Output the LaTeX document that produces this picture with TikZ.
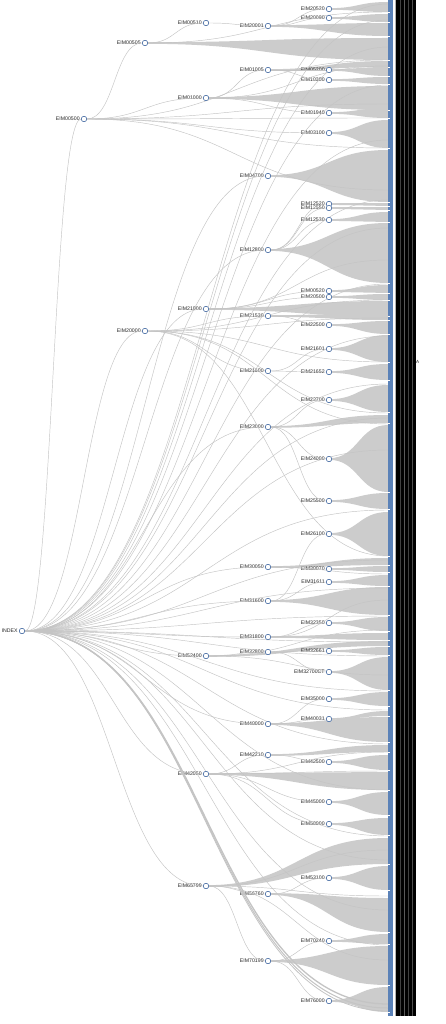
\documentclass[tikz,border=0pt]{standalone}
\usepackage{fontspec}
\setmainfont{Liberation Sans}
\usetikzlibrary{calc}
\definecolor{nodeblue}{HTML}{4A6FA5}
\definecolor{barblue}{HTML}{5B82B8}
\definecolor{wedgec}{HTML}{CCCCCC}
\definecolor{edgec}{HTML}{C4C4C4}
\tikzset{
  tn/.style={circle, draw=nodeblue, fill=white, line width=0.5pt, minimum size=5.4pt, inner sep=0pt},
  lab/.style={font=\fontsize{5.2}{6}\selectfont, text=black!85, inner sep=0pt},
  edge/.style={draw=edgec, line width=0.45pt},
  thick edge/.style={draw=edgec, line width=1.3pt},
  hlink/.style={to path={let \p1=(\tikztostart), \p2=(\tikztotarget), \n1={0.5*\x1+0.5*\x2} in .. controls (\n1,\y1) and (\n1,\y2) .. (\tikztotarget)}},
}
\newcommand\tnode[4]{\node[tn, label={[lab, label distance=1.2pt]left:#4}] (#1) at (#2,#3) {};}
\newcommand\wdg[4]{\fill[wedgec] (#1,#2-0.8) .. controls ({(#1+388)/2},#2-0.8) and ({(#1+388)/2},#3) .. (388,#3) -- (388,#4) .. controls ({(#1+388)/2},#4) and ({(#1+388)/2},#2+0.8) .. (#1,#2+0.8) -- cycle;}
\begin{document}
\begin{tikzpicture}[x=1pt,y=-1pt]
\useasboundingbox (0,0) rectangle (446,1024);
\fill[white] (0,0) rectangle (446,1024);

% bar coordinates (free ends of leaf connectors)
\foreach \y in {4,12,20,36,47,60,66,85,104,118,140,148,190,200,212,228,260,284,300,318,336,362,384,413,418,424,450,480,510,530,556,560,574,588,600,616,630,642,656,675,691,700,710,716,744,752,771,790,812,836,850,860,896,910,932,945,960,1004,1008,1011}
  \coordinate (b\y) at (388,\y);

% wedges
\wdg{329}{9}{2}{12}
\wdg{329}{18}{14}{22}
\wdg{268}{26}{23}{36}
\wdg{145}{43}{38}{60}
\wdg{268}{70}{61}{67}
\wdg{329}{70}{67}{76}
\wdg{329}{80}{77}{84}
\wdg{206}{98}{86}{110}
\wdg{329}{113}{108}{118}
\wdg{329}{133}{120}{148}
\wdg{268}{176}{150}{202}
\wdg{329}{204}{203}{206}
\wdg{329}{208}{207}{210}
\wdg{329}{220}{212}{222}
\wdg{268}{250}{223}{283}
\wdg{329}{291}{285}{293}
\wdg{329}{297}{294}{300}
\wdg{206}{309}{301}{316}
\wdg{268}{316}{313}{320}
\wdg{329}{325}{321}{334}
\wdg{329}{349}{335}{362}
\wdg{329}{372}{364}{380}
\wdg{329}{400}{385}{412}
\wdg{268}{427}{415}{423}
\wdg{329}{459}{425}{492}
\wdg{329}{501}{493}{509}
\wdg{329}{534}{512}{556}
\wdg{268}{567}{558}{565}
\wdg{329}{569}{566}{572}
\wdg{329}{582}{575}{586}
\wdg{268}{601}{587}{615}
\wdg{329}{623}{617}{631}
\wdg{268}{637}{633}{640}
\wdg{206}{656}{641}{646}
\wdg{329}{651}{647}{655}
\wdg{329}{672}{657}{690}
\wdg{329}{699}{692}{706}
\wdg{329}{719}{711}{716}
\wdg{268}{724}{717}{742}
\wdg{268}{755}{745}{752}
\wdg{329}{762}{755}{770}
\wdg{206}{774}{772}{790}
\wdg{329}{802}{792}{815}
\wdg{329}{824}{818}{835}
\wdg{206}{886}{838}{864}
\wdg{329}{878}{866}{890}
\wdg{268}{894}{898}{932}
\wdg{329}{941}{934}{944}
\wdg{268}{961}{946}{985}
\wdg{329}{1001}{987}{1012}

% nodes
\tnode{INDEX}{22}{631}{INDEX}
\tnode{a00500}{84}{119}{EIM00500}
\tnode{a00505}{145}{43}{EIM00505}
\tnode{a20000}{145}{331}{EIM20000}
\tnode{a00510}{206}{23}{EIM00510}
\tnode{a01000}{206}{98}{EIM01000}
\tnode{a21000}{206}{309}{EIM21000}
\tnode{a52400}{206}{656}{EIM52400}
\tnode{a42050}{206}{774}{EIM42050}
\tnode{a65799}{206}{886}{EIM65799}
\tnode{a20001}{268}{26}{EIM20001}
\tnode{a01005}{268}{70}{EIM01005}
\tnode{a04700}{268}{176}{EIM04700}
\tnode{a12800}{268}{250}{EIM12800}
\tnode{a21530}{268}{316}{EIM21530}
\tnode{a21600}{268}{371}{EIM21600}
\tnode{a23000}{268}{427}{EIM23000}
\tnode{a30050}{268}{567}{EIM30050}
\tnode{a31600}{268}{601}{EIM31600}
\tnode{a31800}{268}{637}{EIM31800}
\tnode{a32800}{268}{652}{EIM32800}
\tnode{a40000}{268}{724}{EIM40000}
\tnode{a42210}{268}{755}{EIM42210}
\tnode{a56760}{268}{894}{EIM56760}
\tnode{a70199}{268}{961}{EIM70199}
\tnode{a20520}{329}{9}{EIM20520}
\tnode{a20090}{329}{18}{EIM20090}
\tnode{a05200}{329}{70}{EIM05200}
\tnode{a10300}{329}{80}{EIM10300}
\tnode{a01940}{329}{113}{EIM01940}
\tnode{a03100}{329}{133}{EIM03100}
\tnode{a12520}{329}{204}{EIM12520}
\tnode{a12550}{329}{208}{EIM12550}
\tnode{a12530}{329}{220}{EIM12530}
\tnode{a00520}{329}{291}{EIM00520}
\tnode{a20500}{329}{297}{EIM20500}
\tnode{a22500}{329}{325}{EIM22500}
\tnode{a21601}{329}{349}{EIM21601}
\tnode{a21652}{329}{372}{EIM21652}
\tnode{a22700}{329}{400}{EIM22700}
\tnode{a24000}{329}{459}{EIM24000}
\tnode{a25500}{329}{501}{EIM25500}
\tnode{a26100}{329}{534}{EIM26100}
\tnode{a30070}{329}{569}{EIM30070}
\tnode{a31611}{329}{582}{EIM31611}
\tnode{a32350}{329}{623}{EIM32350}
\tnode{a32661}{329}{651}{EIM32661}
\tnode{a32700}{329}{672}{EIM32700CT}
\tnode{a35000}{329}{699}{EIM35000}
\tnode{a40031}{329}{719}{EIM40031}
\tnode{a42500}{329}{762}{EIM42500}
\tnode{a45000}{329}{802}{EIM45000}
\tnode{a50000}{329}{824}{EIM50000}
\tnode{a53100}{329}{878}{EIM53100}
\tnode{a70240}{329}{941}{EIM70240}
\tnode{a76000}{329}{1001}{EIM76000}

% connectors
\foreach \a/\b in {INDEX/a00500,INDEX/a20000,INDEX/a21000,INDEX/a04700,INDEX/a12800,INDEX/a23000,INDEX/a30050,INDEX/a31600,INDEX/a31800,INDEX/a52400,INDEX/a40000,INDEX/a42050,INDEX/a65799,
  a00500/a00505,a00500/a01000,a00500/a03100,a00505/a00510,a00510/a20001,a20001/a20520,a20001/a20090,
  a01000/a01005,a01005/a05200,a01005/a10300,a01000/a01940,a12800/a12520,a12800/a12550,a12800/a12530,
  a20000/a21600,a20000/a21530,a21000/a00520,a21000/a20500,a21530/a22500,a21600/a21601,a21600/a21652,
  a23000/a22700,a23000/a24000,a23000/a25500,a31600/a26100,a31600/a31611,a30050/a30070,a31800/a32350,
  a52400/a32800,a32800/a32661,a32800/a32700,a40000/a35000,a40000/a40031,a42050/a42210,a42210/a42500,
  a42050/a45000,a42050/a50000,a65799/a56760,a65799/a70199,a56760/a53100,a70199/a70240,a70199/a76000}
  \draw[edge] (\a) to[hlink] (\b);
\foreach \a/\b in {INDEX/b4,INDEX/b20,INDEX/b47,INDEX/b85,INDEX/b140,INDEX/b200,INDEX/b228,INDEX/b284,INDEX/b336,INDEX/b384,INDEX/b418,INDEX/b450,INDEX/b510,INDEX/b560,INDEX/b588,INDEX/b616,INDEX/b642,INDEX/b656,INDEX/b691,INDEX/b710,INDEX/b744,INDEX/b790,INDEX/b836,INDEX/b860,INDEX/b910,INDEX/b945,
  a00500/b60,a00500/b104,a00500/b118,a00500/b148,a00500/b190,a20000/b300,a20000/b362,a20000/b413,a20000/b424,a20000/b556,a20000/b318,
  a01000/b66,a00505/b12,a21000/b260,a52400/b630,a52400/b675,a42050/b752,a42050/b771,a65799/b850,a65799/b896,a31800/b600,a30050/b574,a65799/b960}
  \draw[edge] (\a) to[hlink] (\b);
\draw[thick edge] (INDEX) to[hlink] (b1004);
\draw[thick edge, line width=1pt] (INDEX) to[hlink] (b1008);
\draw[edge, line width=0.8pt] (INDEX) to[hlink] (b1011);

% redraw node circles on top of connectors
\foreach \n in {INDEX,a00500,a00505,a20000,a00510,a01000,a21000,a52400,a42050,a65799,a20001,a01005,a04700,a12800,a21530,a21600,a23000,a30050,a31600,a31800,a32800,a40000,a42210,a56760,a70199,a20520,a20090,a05200,a10300,a01940,a03100,a12520,a12550,a12530,a00520,a20500,a22500,a21601,a21652,a22700,a24000,a25500,a26100,a30070,a31611,a32350,a32661,a32700,a35000,a40031,a42500,a45000,a50000,a53100,a70240,a76000}
  \draw[nodeblue, fill=white, line width=0.5pt] (\n.center) circle (2.7pt);

% blue bar and black band
\fill[barblue] (388,0) rectangle (393.3,1016);
\foreach \y in {12,22,36,60,67,76,84,110,118,148,202,206,210,222,283,293,300,316,320,334,362,380,412,423,492,509,556,565,572,586,615,631,640,646,655,690,706,716,742,752,770,790,815,835,864,890,932,944,985,1012}
  \draw[white, line width=0.4pt] (388,\y) -- (390.2,\y);
\fill[black] (394.6,0) rectangle (415.6,1016);
\foreach \x/\o in {395.4/0.7,400.5/0.25,404/0.35,408.5/0.25,412/0.3}
  \draw[white, opacity=\o, line width=0.3pt] (\x,0) -- (\x,1016);
\node[lab, font=\fontsize{4.5}{5}\selectfont] (tagA) at (417.5,362) {A};
\end{tikzpicture}
\end{document}
